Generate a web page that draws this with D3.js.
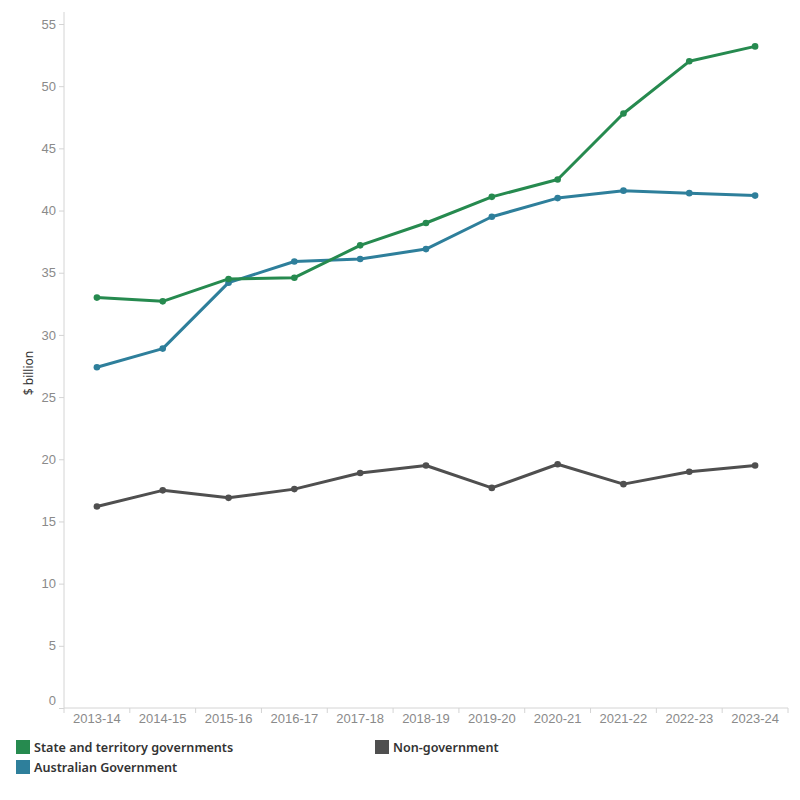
<!DOCTYPE html>
<html>
<head>
<meta charset="utf-8">
<script src="https://cdn.jsdelivr.net/npm/d3@7"></script>
<style>
  body { margin: 0; background: #fff; }
  svg { font-family: "Noto Sans", "Open Sans", sans-serif; }
  .tick text { fill: #8a8a8a; font-size: 13px; }
</style>
</head>
<body>
<svg id="chart"></svg>
<script>
// Chart data
let years = ['2013-14', '2014-15', '2015-16', '2016-17', '2017-18', '2018-19',
             '2019-20', '2020-21', '2021-22', '2022-23', '2023-24']
let stateGov = [33.0, 32.7, 34.5, 34.6, 37.2, 39.0, 41.1, 42.5, 47.8, 52.0, 53.2]
let ausGov = [27.4, 28.9, 34.2, 35.9, 36.1, 36.9, 39.5, 41.0, 41.6, 41.4, 41.2]
let nonGov = [16.2, 17.5, 16.9, 17.6, 18.9, 19.5, 17.7, 19.6, 18.0, 19.0, 19.5]
let yTicks = [0, 5, 10, 15, 20, 25, 30, 35, 40, 45, 50, 55]

let seriesNames = ['State and territory governments', 'Australian Government', 'Non-government']
let seriesColors = ['#268a4f', '#2e7f9b', '#4f4f4f']
let seriesValues = [stateGov, ausGov, nonGov]

let width = 800
let height = 800
let plotLeft = 64, plotRight = 788, plotTop = 24, plotBottom = 708

let svg = d3.select('#chart')
            .attr('width', width)
            .attr('height', height)

let xScale = d3.scaleBand().domain(years).range([plotLeft, plotRight])
let yScale = d3.scaleLinear().domain([0, 55]).range([plotBottom, plotTop])

// y axis
let yAxis = d3.axisLeft(yScale).tickValues(yTicks).tickSize(5).tickSizeOuter(0)
let gy = svg.append('g')
    .attr('transform', 'translate(' + plotLeft + ',0)')
    .call(yAxis)
gy.select('.domain').remove()
gy.selectAll('.tick line').attr('stroke', '#d4d4d4')
gy.selectAll('.tick text').attr('x', -8)
// bottom label sits a little higher, as in the original
gy.selectAll('.tick text').filter(d => d === 0).attr('y', -8)
svg.append('line')
    .attr('x1', plotLeft).attr('x2', plotLeft)
    .attr('y1', 12).attr('y2', plotBottom)
    .attr('stroke', '#d4d4d4')

svg.append('text')
    .attr('transform', 'translate(33,373) rotate(-90)')
    .attr('text-anchor', 'middle')
    .attr('font-size', 12)
    .attr('fill', '#333')
    .text('$ billion')

// x axis
let xAxis = d3.axisBottom(xScale).tickSize(0)
let gx = svg.append('g')
    .attr('transform', 'translate(0,' + plotBottom + ')')
    .call(xAxis)
gx.select('.domain').remove()
gx.selectAll('.tick text').attr('dy', '0.71em').attr('y', 6)
svg.append('line')
    .attr('x1', plotLeft).attr('x2', plotRight)
    .attr('y1', plotBottom).attr('y2', plotBottom)
    .attr('stroke', '#d4d4d4')
svg.selectAll('.xsep')
    .data(years.map(y => xScale(y)).concat([plotRight]))
    .enter()
    .append('line')
    .attr('class', 'xsep')
    .attr('x1', d => d).attr('x2', d => d)
    .attr('y1', plotBottom).attr('y2', plotBottom + 5)
    .attr('stroke', '#d4d4d4')

// lines and points
let line = d3.line()
    .x((d, i) => xScale(years[i]) + xScale.bandwidth() / 2)
    .y(d => yScale(d))

// draw in order so green sits on top
let drawOrder = [2, 1, 0]
drawOrder.forEach(k => {
    let g = svg.append('g')
    g.append('path')
        .datum(seriesValues[k])
        .attr('d', line)
        .attr('fill', 'none')
        .attr('stroke', seriesColors[k])
        .attr('stroke-width', 3)
        .attr('stroke-linejoin', 'round')
    g.selectAll('circle')
        .data(seriesValues[k])
        .enter()
        .append('circle')
        .attr('cx', (d, i) => xScale(years[i]) + xScale.bandwidth() / 2)
        .attr('cy', d => yScale(d))
        .attr('r', 3.3)
        .attr('fill', seriesColors[k])
})

// legend
let legendPos = [[16, 740], [16, 760], [375, 740]]
let legend = svg.selectAll('.legend')
    .data(seriesNames)
    .enter()
    .append('g')
    .attr('class', 'legend')
    .attr('transform', (d, i) => 'translate(' + legendPos[i][0] + ',' + legendPos[i][1] + ')')
legend.append('rect')
    .attr('width', 14).attr('height', 14)
    .attr('fill', (d, i) => seriesColors[i])
legend.append('text')
    .attr('x', 18).attr('y', 12)
    .attr('font-size', 12.6)
    .attr('font-weight', 600)
    .attr('fill', '#333')
    .text(d => d)
</script>
</body>
</html>
